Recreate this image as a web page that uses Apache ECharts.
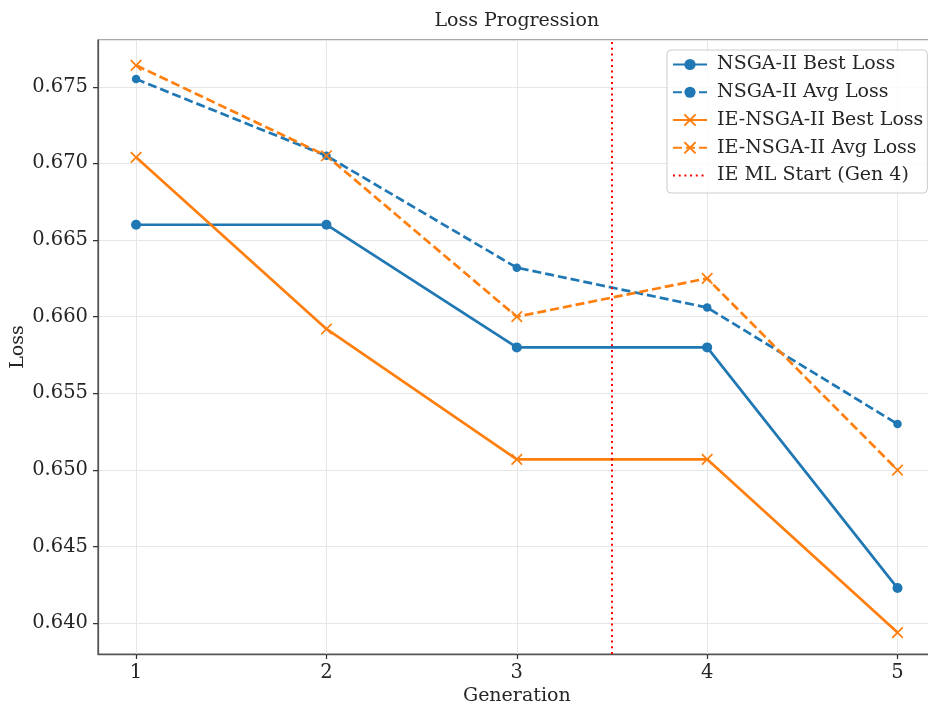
<!DOCTYPE html>
<html>
<head>
<meta charset="utf-8">
<script src="https://cdn.jsdelivr.net/npm/echarts@6/dist/echarts.min.js"></script>
<style>
html, body { margin: 0; padding: 0; background: #ffffff; overflow: hidden; }
#chart { width: 928px; height: 705px; }
</style>
</head>
<body>
<div id="chart"></div>
<script>
// ---- data ----
const generations = [1, 2, 3, 4, 5];
const nsgaBest = [0.6660, 0.6660, 0.6580, 0.6580, 0.6423];
const nsgaAvg  = [0.6755, 0.6705, 0.6632, 0.6606, 0.6530];
const ieBest   = [0.6704, 0.6592, 0.6507, 0.6507, 0.6394];
const ieAvg    = [0.6764, 0.6705, 0.6600, 0.6625, 0.6500];
const mlStartGen = 3.5;
const xTicks = [1, 2, 3, 4, 5];
const seriesNames = ['NSGA-II Best Loss', 'NSGA-II Avg Loss', 'IE-NSGA-II Best Loss', 'IE-NSGA-II Avg Loss', 'IE ML Start (Gen 4)'];

const FONT = 'DejaVu Serif';
const TEXT = '#262626';
const BLUE = '#1f77b4';
const ORANGE = '#ff7f0e';
const XSYM = 'path://M0,0L10,10M10,0L0,10';

function pairs(vals) { return generations.map((g, i) => [g, vals[i]]); }

const chart = echarts.init(document.getElementById('chart'), null, { renderer: 'canvas' });

function lineSeries(name, vals, color, dashed, marker) {
  const isX = marker === 'x';
  return {
    name: name,
    type: 'line',
    data: pairs(vals),
    symbol: isX ? XSYM : 'circle',
    symbolSize: isX ? 10.5 : (dashed ? 8.5 : 10),
    showSymbol: true,
    lineStyle: { color: color, width: 2.7, type: dashed ? [9, 4] : 'solid' },
    itemStyle: isX ? { color: 'rgba(0,0,0,0)', borderColor: color, borderWidth: 1.7 } : { color: color, borderWidth: 0 },
    emphasis: { disabled: true },
    animation: false
  };
}

const legendData = seriesNames.map((n, i) => i === 4 ? { name: n, itemStyle: { opacity: 0 } } : { name: n });

const option = {
  backgroundColor: '#ffffff',
  animation: false,
  title: {
    text: 'Loss Progression',
    left: 516.8,
    top: 12,
    padding: 0,
    textAlign: 'center',
    textStyle: { fontFamily: FONT, fontSize: 19, fontWeight: 'normal', color: TEXT }
  },
  grid: {
    left: 98, top: 40, width: 837.6, height: 614,
    outerBoundsMode: 'none',
    containLabel: false,
    show: true, borderColor: '#555555', borderWidth: 1.25, backgroundColor: 'transparent'
  },
  legend: {
    orient: 'vertical',
    left: 667, top: 50,
    itemWidth: 34, itemHeight: 14, itemGap: 8.75,
    padding: [5, 4, 8, 5],
    backgroundColor: 'rgba(255,255,255,0.8)',
    borderColor: '#cccccc', borderWidth: 1, borderRadius: 4,
    textStyle: { fontFamily: FONT, fontSize: 19, color: TEXT, padding: [0, 0, 0, 5] },
    data: legendData
  },
  xAxis: {
    type: 'value',
    min: 0.8, max: 5.2,
    minInterval: 1, maxInterval: 1,
    name: 'Generation',
    nameLocation: 'middle',
    nameGap: 33,
    nameMoveOverlap: false,
    nameTextStyle: { fontFamily: FONT, fontSize: 19, color: TEXT },
    axisLine: { show: true, onZero: false, lineStyle: { color: '#555555', width: 1.25 } },
    axisTick: { show: true, length: 5, customValues: xTicks, lineStyle: { color: '#333333', width: 1.25 } },
    axisLabel: {
      margin: 9, customValues: xTicks,
      fontFamily: FONT, fontSize: 19.5, color: TEXT,
      formatter: v => String(Math.round(v))
    },
    splitLine: { show: true, lineStyle: { color: '#e6e6e6', width: 1 } }
  },
  yAxis: {
    type: 'value',
    min: 0.638, max: 0.67805,
    minInterval: 0.005, maxInterval: 0.005,
    name: 'Loss',
    nameLocation: 'middle',
    nameGap: 70,
    nameMoveOverlap: false,
    nameTextStyle: { fontFamily: FONT, fontSize: 19, color: TEXT },
    axisLine: { show: true, onZero: false, lineStyle: { color: '#555555', width: 1.25 } },
    axisTick: { show: true, length: 5, lineStyle: { color: '#333333', width: 1.25 } },
    axisLabel: {
      margin: 10, showMinLabel: false, showMaxLabel: false,
      fontFamily: FONT, fontSize: 19.5, color: TEXT,
      formatter: v => v.toFixed(3)
    },
    splitLine: { show: true, lineStyle: { color: '#e6e6e6', width: 1 } }
  },
  series: [
    lineSeries(seriesNames[0], nsgaBest, BLUE, false, 'o'),
    lineSeries(seriesNames[1], nsgaAvg, BLUE, true, 'o'),
    lineSeries(seriesNames[2], ieBest, ORANGE, false, 'x'),
    lineSeries(seriesNames[3], ieAvg, ORANGE, true, 'x'),
    {
      name: seriesNames[4],
      type: 'line',
      data: [],
      symbol: 'none',
      lineStyle: { color: '#ff0000', width: 2, type: [2, 3.7] },
      itemStyle: { color: '#ff0000' },
      markLine: {
        silent: true,
        symbol: ['none', 'none'],
        label: { show: false },
        lineStyle: { color: '#ff0000', width: 2, type: [2, 3.7] },
        emphasis: { disabled: true },
        data: [{ xAxis: mlStartGen }]
      },
      animation: false
    }
  ]
};

chart.setOption(option);
</script>
</body>
</html>
